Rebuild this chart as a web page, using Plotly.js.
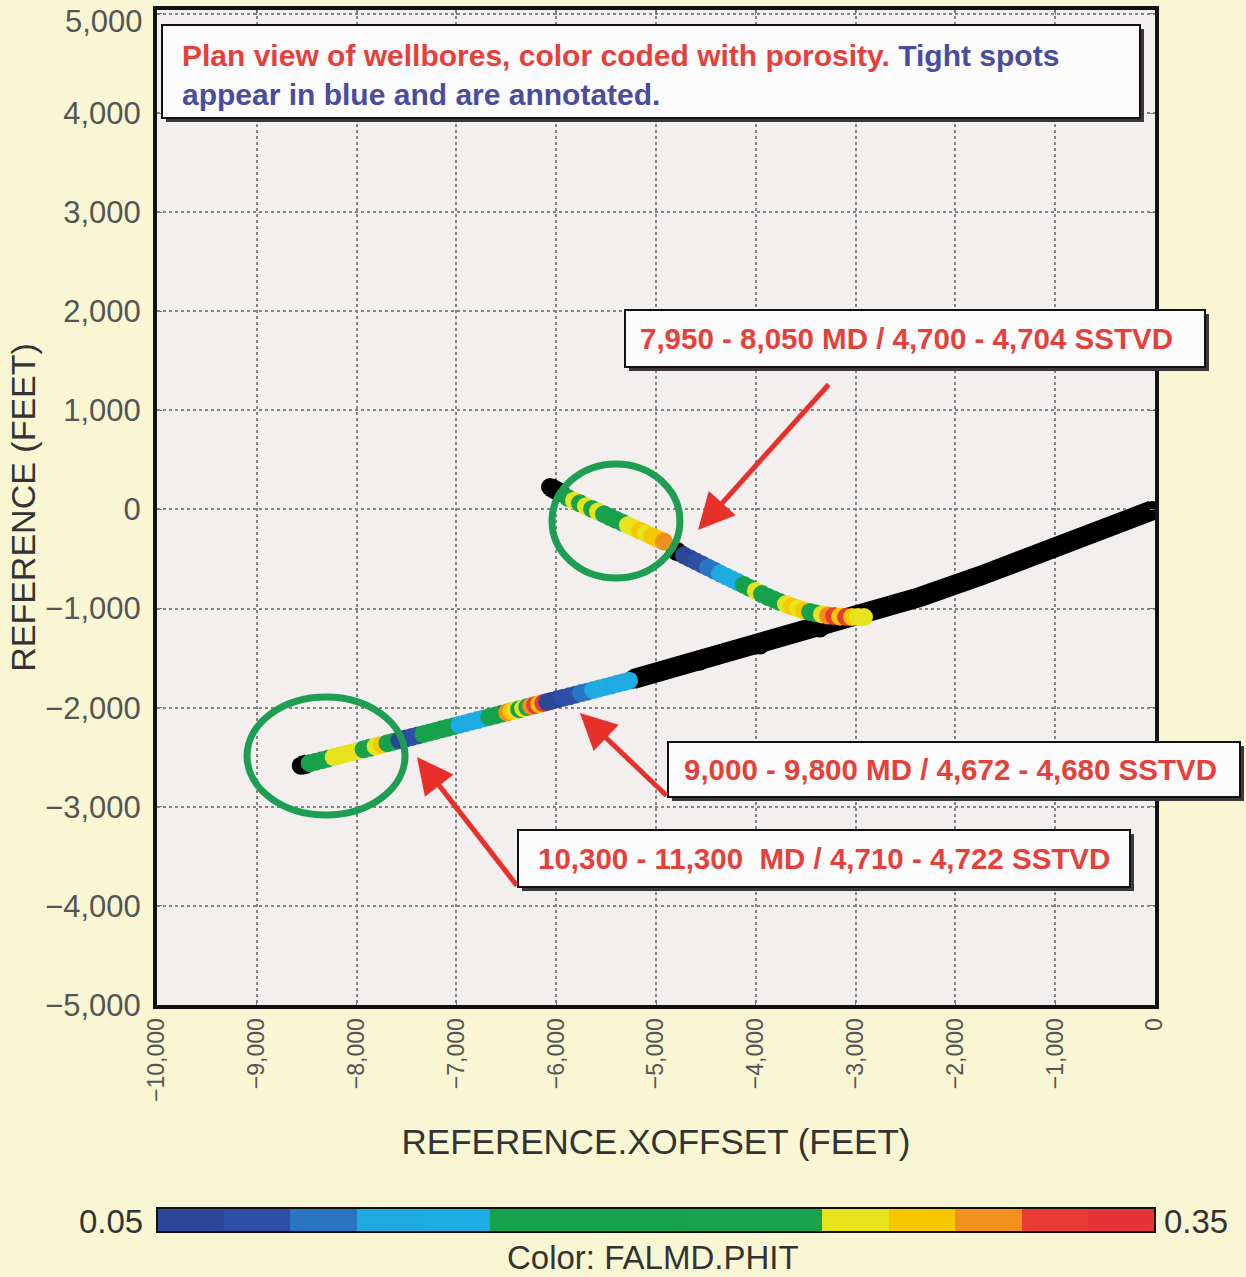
<!DOCTYPE html>
<html>
<head>
<meta charset="utf-8">
<script src="https://cdn.plot.ly/plotly-3.0.1.min.js"></script>
<style>
  html, body { margin: 0; padding: 0; background: #f9f6d3; }
  #chart { width: 1246px; height: 1277px; }
</style>
</head>
<body>
<div id="chart"></div>
<script>
// ---------- DATA (feet) ----------
// Lower (long) wellbore: black survey track with no porosity colour
const lowerTrackX = [-5230, -4559, -3958, -3357, -2906, -2355, -1754, -1152, -551, -30];
const lowerTrackY = [-1712, -1529, -1367, -1196, -1054, -883, -671, -439, -207, -10];
const lowerToeX = [-8560, -8490];
const lowerToeY = [-2585, -2566];

// Lower wellbore, porosity coloured section
const lowerX = [-8470,-8410,-8350,-8290,-8230,-8170,-8110,-8050,-7990,-7930,
                -7870,-7810,-7750,-7690,-7630,-7570,-7510,-7450,-7390,-7330,
                -7270,-7210,-7150,-7090,-7030,-6970,-6910,-6850,-6790,-6730,
                -6670,-6610,-6550,-6490,-6450,-6410,-6370,-6330,-6290,-6250,
                -6210,-6170,-6130,-6090,-6050,-5990,-5930,-5870,-5810,-5750,
                -5690,-5630,-5570,-5510,-5450,-5390,-5330,-5270];
const lowerY = [-2560,-2545,-2530,-2514,-2498,-2483,-2467,-2452,-2436,-2420,
                -2405,-2390,-2374,-2358,-2343,-2328,-2312,-2296,-2281,-2265,
                -2250,-2234,-2218,-2203,-2187,-2172,-2156,-2140,-2125,-2109,
                -2094,-2078,-2062,-2047,-2036,-2026,-2015,-2005,-1994,-1984,
                -1974,-1963,-1953,-1942,-1932,-1916,-1900,-1885,-1869,-1853,
                -1838,-1822,-1806,-1791,-1775,-1759,-1744,-1728];
const lowerPhi = [0.20,0.19,0.21,0.22,0.26,0.26,0.26,0.26,0.26,0.20,
                  0.19,0.26,0.28,0.18,0.19,0.06,0.06,0.08,0.08,0.16,
                  0.17,0.18,0.17,0.16,0.16,0.13,0.12,0.13,0.14,0.13,
                  0.16,0.17,0.18,0.30,0.28,0.26,0.20,0.26,0.22,0.30,
                  0.32,0.28,0.32,0.06,0.06,0.06,0.08,0.08,0.08,0.10,
                  0.10,0.12,0.12,0.13,0.12,0.14,0.13,0.14];

// Upper (short) wellbore: black heel and a black gap
const upperHeelX = [-6062, -5950];
const upperHeelY = [227, 165];
const upperGapX = [-4810, -4770];
const upperGapY = [-412, -436];

// Upper wellbore, porosity coloured section
const upperX = [-5882,-5822,-5762,-5701,-5641,-5581,-5521,-5461,-5401,-5341,
                -5281,-5220,-5160,-5100,-5040,-4980,-4920,
                -4719,-4659,-4599,-4539,-4479,-4419,-4359,-4299,-4239,-4179,
                -4119,-4059,-3999,-3938,-3878,-3818,-3758,-3698,-3637,-3577,
                -3517,-3457,-3397,-3337,-3276,-3216,-3156,-3096,-3036,-2976,-2916];
const upperY = [116,89,62,33,6,-21,-48,-77,-104,-131,
                -158,-187,-214,-241,-269,-297,-324,
                -464,-494,-525,-555,-585,-615,-646,-676,-704,-732,
                -762,-792,-822,-853,-883,-908,-933,-954,-979,-999,
                -1019,-1034,-1049,-1059,-1070,-1075,-1080,-1085,-1085,-1085,-1085];
const upperPhi = [0.20,0.26,0.20,0.26,0.19,0.26,0.18,0.17,0.16,0.18,
                  0.26,0.26,0.28,0.26,0.28,0.28,0.30,
                  0.06,0.06,0.08,0.08,0.10,0.10,0.12,0.12,0.14,0.14,
                  0.16,0.17,0.26,0.17,0.18,0.17,0.19,0.26,0.28,0.26,
                  0.28,0.20,0.18,0.26,0.30,0.32,0.28,0.32,0.28,0.26,0.26];

// Axis ticks
const yTickVals = [-5000,-4000,-3000,-2000,-1000,0,1000,2000,3000,4000,5000];
const yTickText = ['\u22125,000','\u22124,000','\u22123,000','\u22122,000','\u22121,000','0',
                   '1,000','2,000','3,000','4,000',''];
const yTopLabel = '5,000';   // drawn just inside the top edge, as in the reference

// Colour bar bands (FALMD.PHIT)
const bandEdges = [0.05,0.07,0.09,0.11,0.13,0.15,0.17,0.19,0.21,0.23,0.25,0.27,0.29,0.31,0.33,0.35];
const bandColors = ['#2b4597','#2f4ea6','#2b74c2','#1ea9e1','#1eace2','#16a14b','#16a14b','#16a14b',
                    '#1aa34c','#1aa34c','#e7e31e','#f7c703','#f2901f','#e93b34','#e53237'];
const phiMin = 0.05, phiMax = 0.35;

// Text
const titleRed = 'Plan view of wellbores, color coded with porosity.';
const titleBlue1 = 'Tight spots';
const titleBlue2 = 'appear in blue and are annotated.';
const noteLabels = ['7,950 - 8,050 MD / 4,700 - 4,704 SSTVD',
                    '9,000 - 9,800 MD / 4,672 - 4,680 SSTVD',
                    '10,300 - 11,300&nbsp;&nbsp;MD / 4,710 - 4,722 SSTVD'];
const noteTipX = [-4579, -5762, -7395];
const noteTipY = [-207, -2053, -2497];

// ---------- BUILD ----------
const colorscale = [];
for (let i = 0; i < bandColors.length; i++) {
  colorscale.push([(bandEdges[i] - phiMin) / (phiMax - phiMin), bandColors[i]]);
  colorscale.push([(bandEdges[i + 1] - phiMin) / (phiMax - phiMin), bandColors[i]]);
}

const FONT = 'Liberation Sans, Arial, Helvetica, sans-serif';
const MS = 18;

const blackTrace = (x, y, w) => ({
  type: 'scatter', mode: 'lines+markers', x, y,
  line: {color: '#000', width: w}, marker: {color: '#000', size: w - 1},
  hoverinfo: 'skip', showlegend: false
});

const traces = [
  blackTrace(lowerTrackX, lowerTrackY, 20),
  blackTrace(lowerToeX, lowerToeY, 19),
  {
    type: 'scatter', mode: 'markers', x: lowerX, y: lowerY,
    marker: {color: lowerPhi, coloraxis: 'coloraxis', size: MS, line: {width: 0}},
    showlegend: false
  },
  blackTrace(upperHeelX, upperHeelY, 19),
  blackTrace(upperGapX, upperGapY, 19),
  {
    type: 'scatter', mode: 'markers', x: upperX, y: upperY,
    marker: {color: upperPhi, coloraxis: 'coloraxis', size: MS, line: {width: 0}},
    showlegend: false
  }
];

// plot area in px: x 157..1155, y 10..1005
const PL = 157, PW = 998, PB = 1005, PH = 995;
const px2p = (px) => (px - PL) / PW;
const py2p = (py) => (PB - py) / PH;

function boxShapes(x0, y0, x1, y1, sh) {
  return [
    {type: 'rect', xref: 'paper', yref: 'paper', layer: 'above',
     x0: px2p(x0 + sh), x1: px2p(x1 + sh), y0: py2p(y1 + sh), y1: py2p(y0 + sh),
     fillcolor: '#3a3a3a', line: {width: 0}},
    {type: 'rect', xref: 'paper', yref: 'paper', layer: 'above',
     x0: px2p(x0), x1: px2p(x1), y0: py2p(y1), y1: py2p(y0),
     fillcolor: '#fdfcfd', line: {color: '#111', width: 2}}
  ];
}

const boxes = [[162, 25, 1140, 118], [625, 310, 1205, 367], [668, 742, 1240, 797], [518, 830, 1130, 887]];
let shapes = [];
boxes.forEach(b => { shapes = shapes.concat(boxShapes(b[0], b[1], b[2], b[3], 4)); });

// green circles (data coordinates)
shapes.push({type: 'circle', xref: 'x', yref: 'y', layer: 'above',
  x0: -6042, x1: -4760, y0: -691, y1: 459, line: {color: '#1e9e52', width: 7}});
shapes.push({type: 'circle', xref: 'x', yref: 'y', layer: 'above',
  x0: -9098, x1: -7515, y0: -3083, y1: -1892, line: {color: '#1e9e52', width: 7}});

const RED = '#e5413a', BLUE = '#4a4c9e';
const annotations = [
  {xref: 'paper', yref: 'paper', x: px2p(180), y: py2p(75), xanchor: 'left', yanchor: 'middle',
   align: 'left', showarrow: false,
   text: '<b><span style="color:' + RED + '">' + titleRed + '</span> <span style="color:' + BLUE + '">' +
         titleBlue1 + '</span><br><span style="color:' + BLUE + '">' + titleBlue2 + '</span></b>',
   font: {family: FONT, size: 30}},
  {xref: 'paper', yref: 'paper', x: px2p(145), y: py2p(22), xanchor: 'right', yanchor: 'middle',
   showarrow: false, text: yTopLabel, font: {family: FONT, size: 31, color: '#555'}}
];
const noteCenters = [[906, 338.5], [950, 769.5], [824, 858.5]];
noteLabels.forEach((t, i) => {
  annotations.push({xref: 'paper', yref: 'paper', x: px2p(noteCenters[i][0]), y: py2p(noteCenters[i][1]),
    xanchor: 'center', yanchor: 'middle', showarrow: false,
    text: '<b>' + t + '</b>', font: {family: FONT, size: 29.5, color: RED}});
});
const arrowTail = [[132, -147], [88, 84], [101, 130]];
noteTipX.forEach((x, i) => {
  annotations.push({x: x, y: noteTipY[i], xref: 'x', yref: 'y', text: '',
    showarrow: true, arrowhead: 2, arrowsize: 1.45, arrowwidth: 5, arrowcolor: '#e8302b',
    ax: arrowTail[i][0], ay: arrowTail[i][1], standoff: 0});
});
// colour bar labels
annotations.push({xref: 'paper', yref: 'paper', x: px2p(145), y: py2p(1221), xanchor: 'right', yanchor: 'middle',
  showarrow: false, text: phiMin.toFixed(2), font: {family: FONT, size: 33, color: '#333'}});
annotations.push({xref: 'paper', yref: 'paper', x: px2p(1162), y: py2p(1221), xanchor: 'left', yanchor: 'middle',
  showarrow: false, text: phiMax.toFixed(2), font: {family: FONT, size: 33, color: '#333'}});
annotations.push({xref: 'paper', yref: 'paper', x: px2p(653), y: py2p(1257), xanchor: 'center', yanchor: 'middle',
  showarrow: false, text: 'Color: FALMD.PHIT', font: {family: FONT, size: 33, color: '#333'}});

const axisCommon = {
  showline: true, linecolor: '#111', linewidth: 4, mirror: 'allticks',
  ticks: 'inside', ticklen: 5, tickwidth: 1, tickcolor: '#777',
  showgrid: true, gridcolor: '#858585', gridwidth: 2, griddash: 'dot',
  zeroline: false, ticklabeloverflow: 'allow',
  tickfont: {family: FONT, color: '#555'}
};

const layout = {
  width: 1246, height: 1277,
  margin: {l: PL, r: 1246 - PL - PW, t: 10, b: 1277 - PB},
  paper_bgcolor: '#f9f6d3',
  plot_bgcolor: '#f3efef',
  showlegend: false,
  xaxis: Object.assign({}, axisCommon, {
    range: [-10000, 0], dtick: 1000, tickformat: ',d', tickangle: -90,
    tickfont: {family: FONT, size: 23, color: '#555'},
    ticklabelstandoff: 0,
    title: {text: 'REFERENCE.XOFFSET (FEET)', font: {family: FONT, size: 35, color: '#333'}, standoff: 30}
  }),
  yaxis: Object.assign({}, axisCommon, {
    range: [-5000, 5040], tickmode: 'array', tickvals: yTickVals, ticktext: yTickText,
    tickfont: {family: FONT, size: 31, color: '#555'},
    ticklabelstandoff: 6,
    title: {text: 'REFERENCE (FEET)', font: {family: FONT, size: 34, color: '#333'}, standoff: 0}
  }),
  coloraxis: {
    cmin: phiMin, cmax: phiMax, colorscale: colorscale,
    colorbar: {
      orientation: 'h', lenmode: 'pixels', len: PW, thicknessmode: 'pixels', thickness: 24,
      x: 0.5, xanchor: 'center', y: py2p(1208), yanchor: 'top', xpad: 0, ypad: 0,
      outlinewidth: 2, outlinecolor: '#111', showticklabels: false, ticks: ''
    }
  },
  shapes: shapes,
  annotations: annotations
};

Plotly.newPlot('chart', traces, layout, {displayModeBar: false, staticPlot: true});
</script>
</body>
</html>
